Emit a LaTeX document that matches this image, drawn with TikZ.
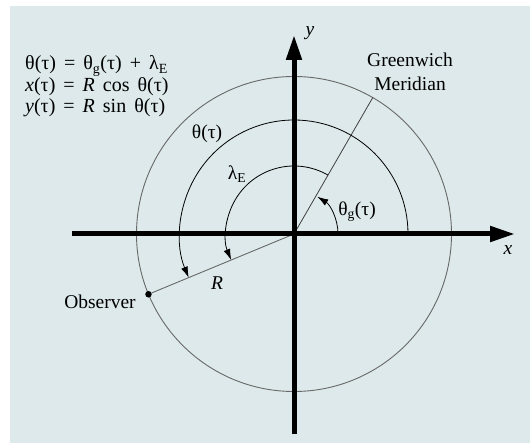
\documentclass[tikz,border=0pt]{standalone}
\usepackage{fontspec}
\setmainfont{Liberation Serif}
\usetikzlibrary{arrows.meta,calc}
\definecolor{panel}{RGB}{221,233,234}
\definecolor{ring}{RGB}{105,105,105}
\newcommand\wsp{\hspace{0.4em}}
\tikzset{
  axis/.style={line width=5pt,-{Triangle[length=25pt,width=15pt]}},
  ringline/.style={draw=ring,line width=0.9pt},
  arcline/.style={draw=black,line width=0.8pt,-{Latex[length=11pt,width=7pt]}},
  radial/.style={draw=black!75,line width=0.8pt},
  lbl/.style={inner sep=0pt,font=\fontsize{19.5}{23.5}\selectfont},
  eqn/.style={inner sep=0pt,anchor=west,font=\fontsize{20}{21}\selectfont},
}
\begin{document}
\begin{tikzpicture}[x=1pt,y=1pt]
\useasboundingbox (0,0) rectangle (530,-443);
\fill[white] (0,0) rectangle (530,-443);
\fill[panel] (10,-6) rectangle (530,-443);
% centre
\coordinate (O) at (294,-234);
% axes
\coordinate (xl) at (72,-234);
\coordinate (xr) at (515,-234);
\coordinate (yb) at (294,-434);
\coordinate (yt) at (294,-35);
% outer circle
\draw[ringline] (O) circle[radius=157.5];
% points
\coordinate (gm) at ($(O)+(60:157.5)$);
\node[circle,fill=black,inner sep=0pt,minimum size=6.5pt] (obs) at ($(O)+(202.5:157.5)$) {};
% radial lines
\draw[radial] (O) -- (gm);
\draw[draw=ring,line width=0.9pt] (O) -- (obs);
% arcs
\coordinate (a1s) at ($(O)+(0:114)$);
\draw[arcline] (a1s) arc[start angle=0,end angle=202.5,radius=114];
\coordinate (a2s) at ($(O)+(60:68)$);
\draw[arcline] (a2s) arc[start angle=60,end angle=202.5,radius=68];
\coordinate (a3s) at ($(O)+(0:44)$);
\draw[arcline] (a3s) arc[start angle=0,end angle=58,radius=44];
% axes on top
\draw[axis] (xl) -- (xr);
\draw[axis] (yb) -- (yt);
% labels
\node[lbl] (ylab) at (310,-33) {\textit{y}};
\node[lbl] (xlab) at (508,-250) {\textit{x}};
\node[lbl,align=center] (gmlab) at (410,-72) {Greenwich\\Meridian};
\node[lbl] (thlab) at (207,-134) {θ(τ)};
\node[lbl] (lalab) at (237,-174) {λ\textsubscript{E}};
\node[lbl] (tglab) at (357,-212) {θ\textsubscript{g}(τ)};
\node[lbl] (rlab) at (217,-283) {\textit{R}};
\node[lbl] (oblab) at (100,-302) {Observer};
\node[eqn] (eq1) at (25,-66) {θ(τ)\wsp=\wsp θ\textsubscript{g}(τ)\wsp+\wsp λ\textsubscript{E}};
\node[eqn] (eq2) at (25,-87) {\textit{x}(τ)\wsp=\wsp\textit{R}\wsp cos\wsp θ(τ)};
\node[eqn] (eq3) at (25,-108) {\textit{y}(τ)\wsp=\wsp\textit{R}\wsp sin\wsp θ(τ)};
\end{tikzpicture}
\end{document}
